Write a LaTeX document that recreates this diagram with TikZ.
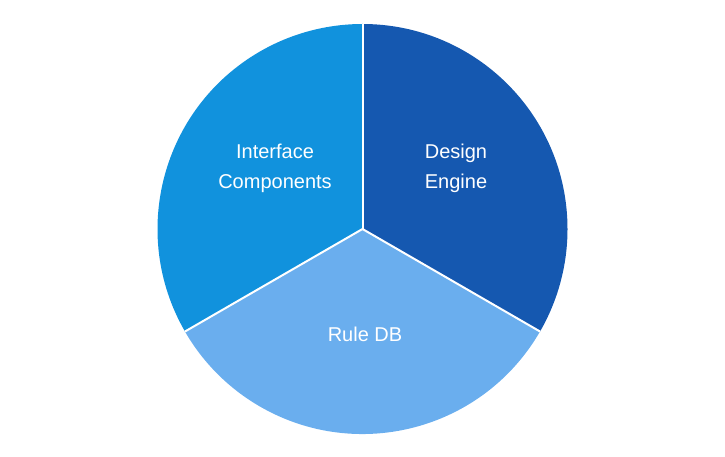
\documentclass[tikz,border=0pt]{standalone}
\usepackage{fontspec}
\setmainfont{Liberation Sans}
\definecolor{cA}{HTML}{1558B0}
\definecolor{cB}{HTML}{1192DD}
\definecolor{cC}{HTML}{6AAEEE}
\begin{document}
\begin{tikzpicture}[x=1pt,y=-1pt,
  sec/.style={draw=white,line width=2pt,line join=round},
  lab/.style={text=white,align=center,font=\fontsize{20}{30}\selectfont}]
\useasboundingbox (0,0) rectangle (725,457);
\coordinate (c) at (362.5,229);
\fill[cA] (c) -- +(0,-205) arc[start angle=-90,end angle=30,radius=205] -- cycle;
\fill[cC] (c) -- +(177.5,102.5) arc[start angle=30,end angle=150,radius=205] -- cycle;
\fill[cB] (c) -- +(-177.5,102.5) arc[start angle=150,end angle=270,radius=205] -- cycle;
\draw[sec] (c) -- +(0,-205);
\draw[sec] (c) -- +(177.5,102.5);
\draw[sec] (c) -- +(-177.5,102.5);
\node[lab] (d) at (456,168) {Design\\Engine};
\node[lab] (i) at (275,168) {Interface\\Components};
\node[lab] (r) at (365,334) {Rule DB};
\end{tikzpicture}
\end{document}
